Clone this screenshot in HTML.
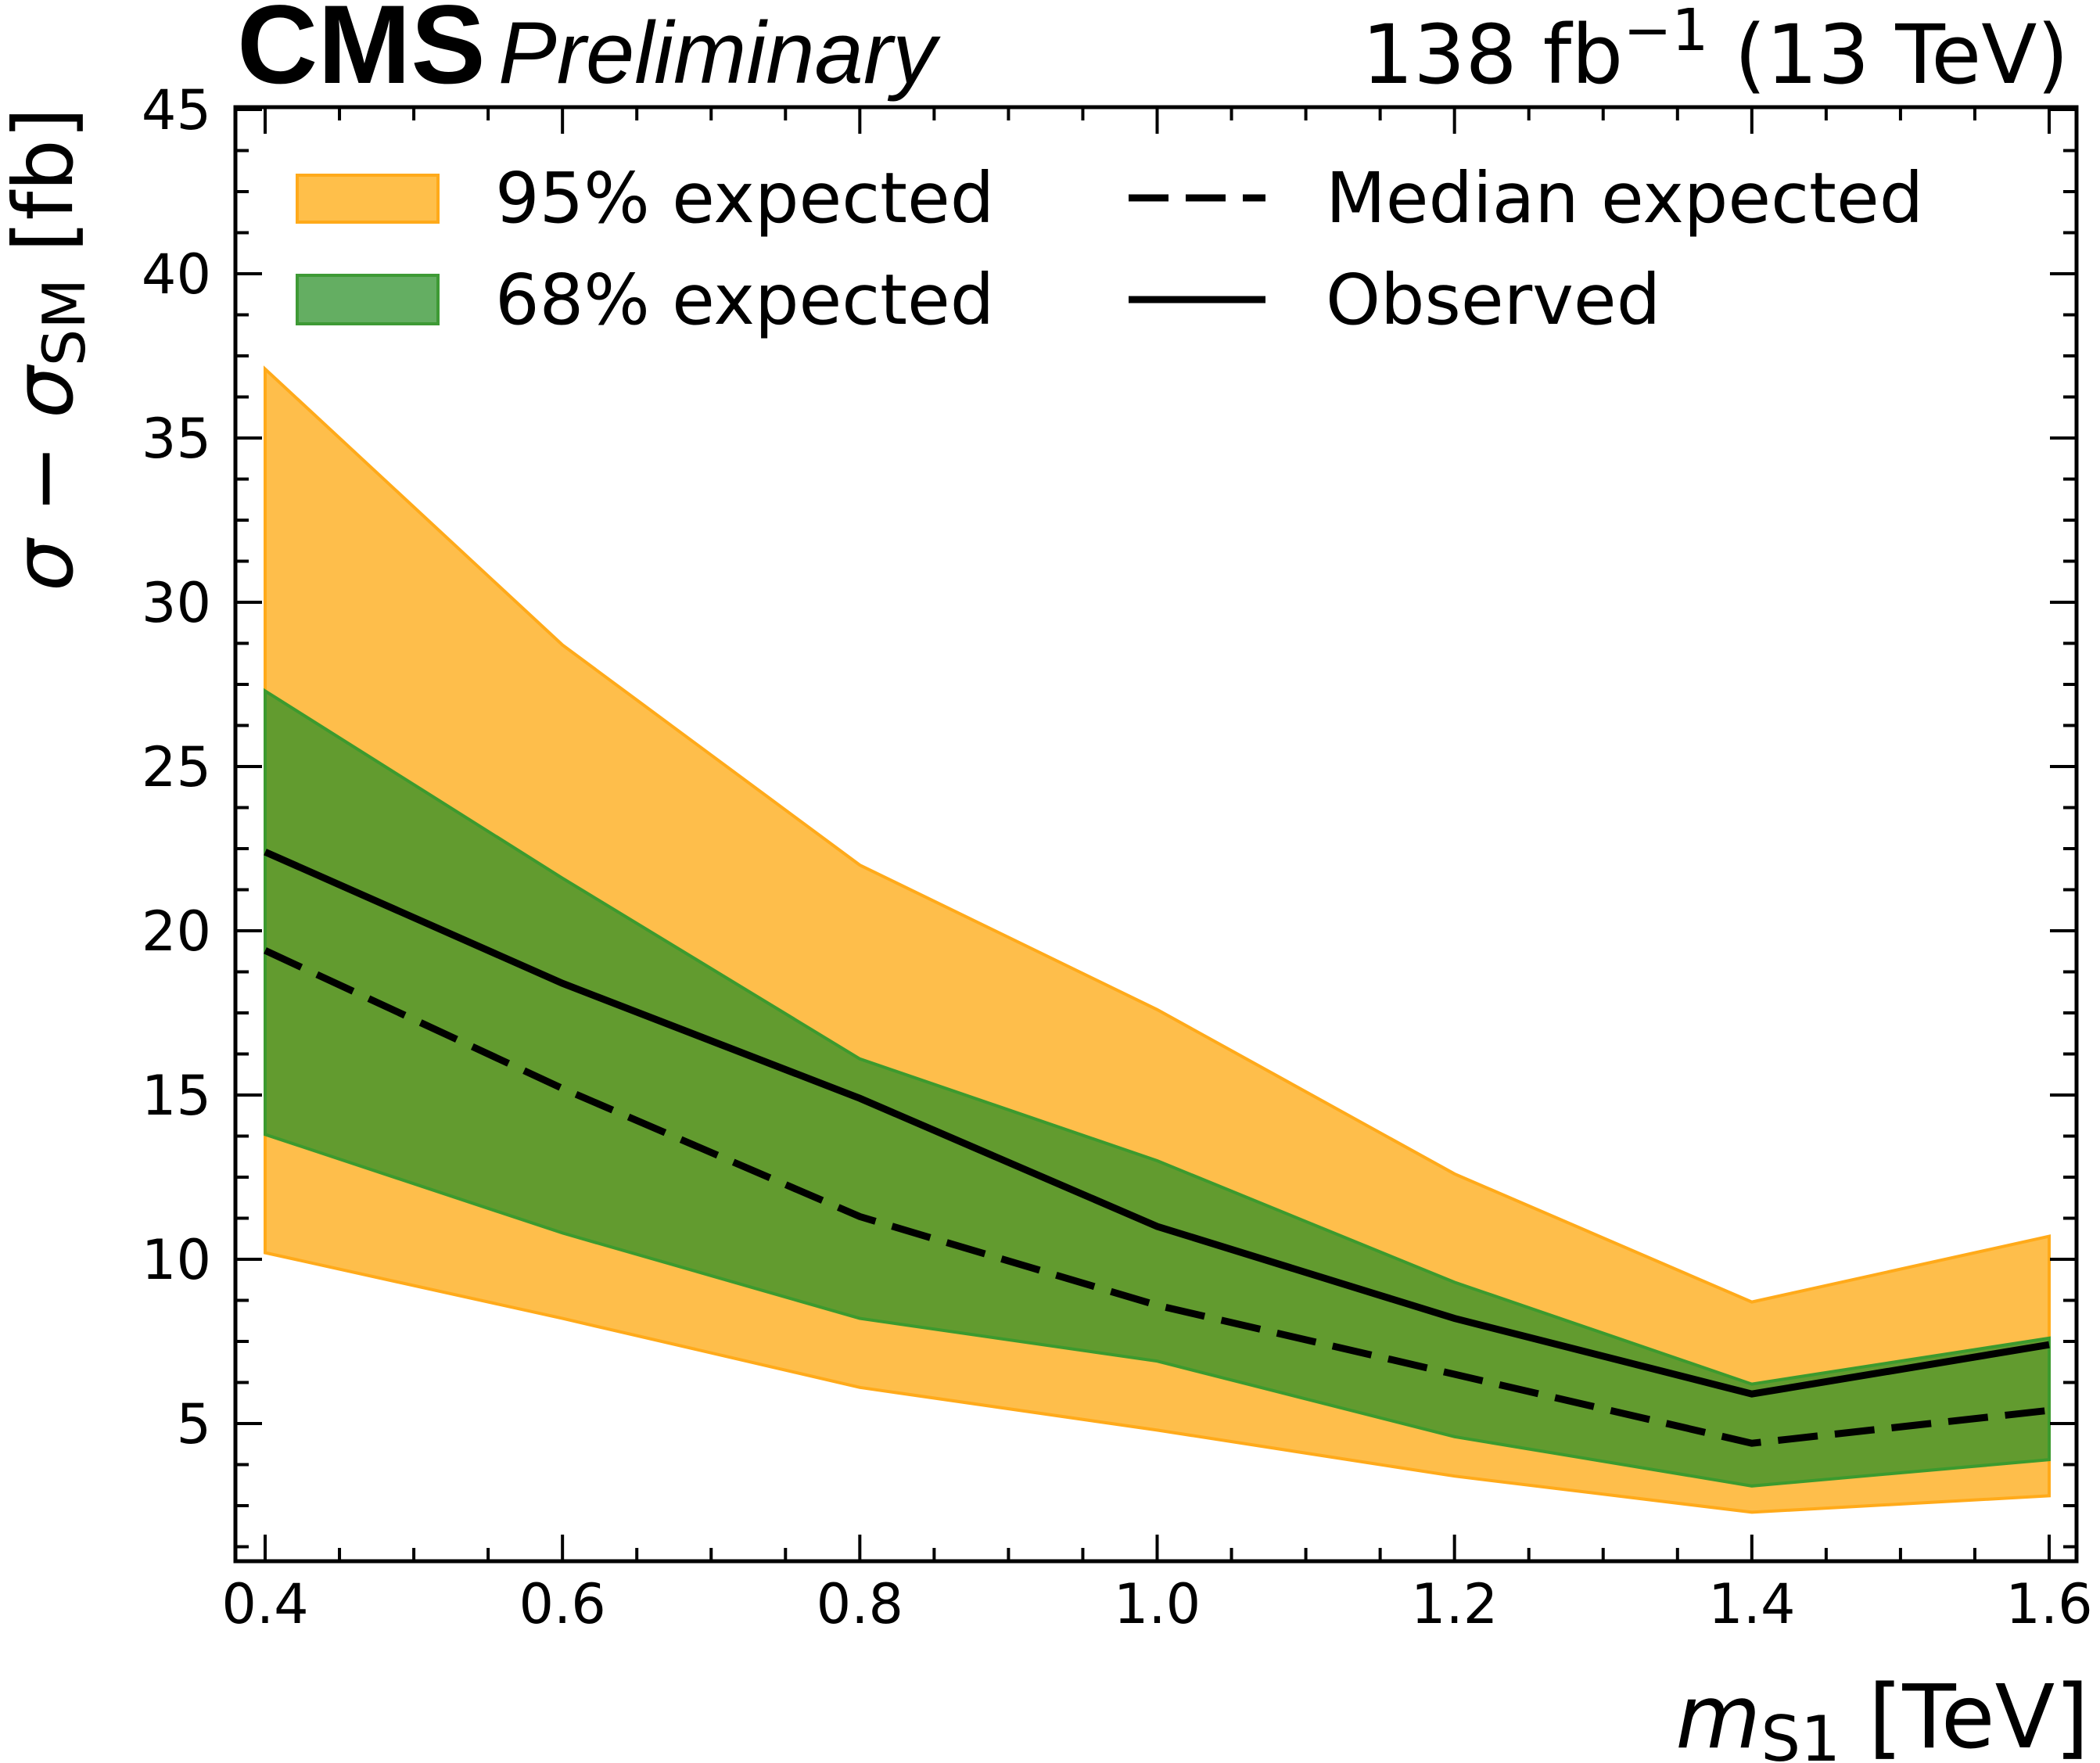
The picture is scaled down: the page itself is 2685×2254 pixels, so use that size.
<!DOCTYPE html>
<html><head><meta charset="utf-8"><style>
html,body{margin:0;padding:0;background:#fff;}
svg{display:block;font-family:"DejaVu Sans","Liberation Sans",sans-serif;}
</style></head><body>
<svg id="chart" width="2685" height="2254" viewBox="0 0 2685 2254" xmlns="http://www.w3.org/2000/svg">
<g id="bands"></g>
<g id="lines"></g>
<g id="axes"></g>
<text x="303" y="106" font-family="Liberation Sans, sans-serif" font-weight="bold" font-size="143">CMS</text>
<text x="637" y="106" font-family="Liberation Sans, sans-serif" font-style="italic" font-size="112">Preliminary</text>
<text x="2645" y="106" text-anchor="end" font-size="104">138 fb<tspan dy="-42" font-size="74">−1</tspan><tspan dy="42"> (13 TeV)</tspan></text>
<text x="2671" y="2234" text-anchor="end" font-size="112"><tspan font-style="italic">m</tspan><tspan font-size="80" dy="17">S1</tspan><tspan dy="-17"> [TeV]</tspan></text>
<text transform="translate(92,137) rotate(-90)" text-anchor="end" font-size="105"><tspan font-style="italic">σ</tspan> − <tspan font-style="italic">σ</tspan><tspan font-size="75" dy="16">SM</tspan><tspan dy="-16"> [fb]</tspan></text>
<g>
<rect x="380" y="224" width="180" height="60" fill="#FFBF4A" stroke="#FFAA1A" stroke-width="4"/>
<text x="633" y="284" font-size="89">95% expected</text>
<rect x="380" y="352" width="180" height="62" fill="#64AE62" stroke="#3E9A35" stroke-width="4"/>
<text x="633" y="414" font-size="89">68% expected</text>
<line x1="1443" y1="253" x2="1618" y2="253" stroke="#000" stroke-width="9" stroke-dasharray="51,22"/>
<text x="1695" y="284" font-size="89">Median expected</text>
<line x1="1443" y1="383" x2="1618" y2="383" stroke="#000" stroke-width="9"/>
<text x="1695" y="414" font-size="89">Observed</text>
</g>
</svg>
<script>
const masses = [0.4, 0.6, 0.8, 1.0, 1.2, 1.4, 1.6];
const up95 = [37.1, 28.7, 22.0, 17.6, 12.6, 8.7, 10.7];
const up68 = [27.3, 21.6, 16.1, 13.0, 9.3, 6.2, 7.6];
const observed = [22.4, 18.4, 14.9, 11.0, 8.2, 5.9, 7.4];
const median = [19.4, 15.2, 11.3, 8.6, 6.5, 4.4, 5.4];
const lo68 = [13.8, 10.8, 8.2, 6.9, 4.6, 3.1, 3.9];
const lo95 = [10.2, 8.2, 6.1, 4.8, 3.4, 2.3, 2.8];
const xTickLabels = ["0.4","0.6","0.8","1.0","1.2","1.4","1.6"];
const yTickLabels = ["5","10","15","20","25","30","35","40","45"];

const NS="http://www.w3.org/2000/svg";
const L=301,R=2655,T=137,B=1996;
const X0=0.4,X1=1.6,PX0=339,PX1=2620;
const Y5=5,Y45=45,PY5=1820,PY45=140;
function xs(v){return PX0+(v-X0)*(PX1-PX0)/(X1-X0);}
function ys(v){return PY5+(v-Y5)*(PY45-PY5)/(Y45-Y5);}
function mk(tag,attrs,parent){const e=document.createElementNS(NS,tag);for(const k in attrs)e.setAttribute(k,attrs[k]);parent.appendChild(e);return e;}
function pts(arr){return arr.map((v,i)=>xs(masses[i])+","+ys(v));}
function band(u,l){return pts(u).concat(pts(l).reverse()).join(" ");}

const bands=document.getElementById('bands');
const b95=mk('polygon',{points:band(up95,lo95),fill:'#FEBE4B',stroke:'#FFAA1A','stroke-width':4},bands);


const b68=mk('polygon',{points:band(up68,lo68),fill:'#629B2F',stroke:'#3C9A2E','stroke-width':4},bands);



const lines=document.getElementById('lines');
const med=mk('polyline',{points:pts(median).join(" "),fill:'none',stroke:'#000','stroke-width':9,'stroke-dasharray':'51,22'},lines);


const obs=mk('polyline',{points:pts(observed).join(" "),fill:'none',stroke:'#000','stroke-width':9},lines);



const axes=document.getElementById('axes');
const frame=mk('rect',{x:L,y:T,width:R-L,height:B-T,fill:'none',stroke:'#000','stroke-width':5},axes);


for(let k=0;k<=26;k++){
  const v=0.35+k*0.05; const px=xs(v);
  if(px<L||px>R) continue;
  const major=(k%4===1);
  const len=major?34:17;
  mk('line',{x1:px,y1:B,x2:px,y2:B-len,stroke:'#000','stroke-width':4},axes);
  mk('line',{x1:px,y1:T,x2:px,y2:T+len,stroke:'#000','stroke-width':4},axes);
}
xTickLabels.forEach((s,i)=>{
  const t=mk('text',{x:xs(masses[i]),y:2075,'text-anchor':'middle','font-size':70},axes);
  t.textContent=s;
  
  
});
for(let k=0;k<=36;k++){
  const v=k*1.25; const py=ys(v);
  if(py>B||py<T-2) continue;
  const major=(k%4===0);
  const len=major?34:17;
  mk('line',{x1:L,y1:py,x2:L+len,y2:py,stroke:'#000','stroke-width':4},axes);
  mk('line',{x1:R,y1:py,x2:R-len,y2:py,stroke:'#000','stroke-width':4},axes);
}
yTickLabels.forEach((s)=>{
  const t=mk('text',{x:270,y:ys(parseFloat(s))+25,'text-anchor':'end','font-size':70},axes);
  t.textContent=s;
  
  
});
</script>
</body></html>
